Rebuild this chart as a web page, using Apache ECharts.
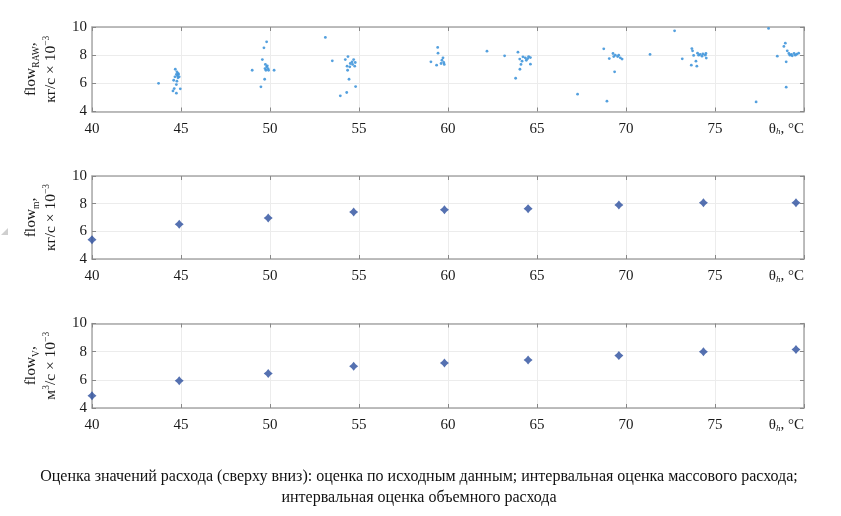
<!DOCTYPE html>
<html>
<head>
<meta charset="utf-8">
<script src="https://cdn.jsdelivr.net/npm/echarts@6/dist/echarts.min.js"></script>
<style>
html,body{margin:0;padding:0;background:#fff;}
#c{width:841px;height:516px;}
</style>
</head>
<body>
<div id="c"></div>
<script>
// ---- data ----
var xTicks = [40, 45, 50, 55, 60, 65, 70, 75, 80];
var yTicks = [4, 6, 8, 10];

// top panel: raw flow estimates (kg/s x 1e-3)
var rawX = [
  43.74, 44.68, 44.77, 44.74, 44.80, 44.86, 44.90, 44.83, 44.66, 44.84, 44.59, 44.77, 44.74, 44.62, 44.55, 44.74, 44.96,
  49.81, 49.66, 49.57, 49.74, 49.81, 49.89, 49.77, 49.92, 49.85, 49.72, 49.00, 50.23, 49.70, 49.49,
  53.11, 53.50, 54.23, 54.38, 54.70, 54.51, 54.64, 54.76, 54.48, 54.61, 54.79, 54.36, 54.33, 54.44, 54.81, 54.31, 53.95,
  59.42, 59.44, 59.04, 59.36, 59.66, 59.76, 59.72, 59.79, 59.61,
  62.19, 63.18, 63.93, 64.03, 64.21, 64.34, 64.48, 64.63, 64.40, 64.16, 64.63, 64.53, 64.10, 64.04, 63.80,
  68.75, 69.06, 69.27, 69.40, 69.53, 69.68, 69.78, 69.31, 69.59, 69.36, 67.28, 68.93,
  71.35, 72.73, 73.16, 73.70, 73.74, 73.80, 74.02, 74.17, 74.32, 74.45, 74.49, 74.27, 74.08, 74.51, 73.93, 73.67, 73.98,
  78.01, 78.95, 78.87, 78.50, 79.06, 79.15, 79.29, 79.44, 79.59, 79.70, 79.34, 79.21, 79.51, 79.00, 79.00, 77.31
];
var rawY = [
  6.00, 7.00, 6.82, 6.63, 6.53, 6.63, 6.46, 6.39, 6.46, 6.70, 6.22, 6.15, 5.91, 5.63, 5.46, 5.30, 5.61,
  8.95, 8.52, 7.69, 7.34, 7.17, 7.05, 6.93, 6.93, 7.24, 7.05, 6.93, 6.93, 6.29, 5.75,
  9.26, 7.60, 7.69, 7.90, 7.69, 7.41, 7.34, 7.22, 7.17, 7.53, 7.48, 6.93, 7.22, 6.29, 5.77, 5.35, 5.11,
  8.55, 8.14, 7.53, 7.29, 7.64, 7.48, 7.81, 7.34, 7.41,
  8.28, 7.95, 8.21, 7.72, 7.88, 7.81, 7.76, 7.83, 7.64, 7.57, 7.36, 7.90, 7.34, 7.00, 6.36,
  8.45, 7.76, 8.12, 8.00, 7.90, 7.81, 7.72, 7.90, 8.00, 6.82, 5.23, 4.73,
  8.05, 9.73, 7.74, 8.47, 8.31, 7.98, 8.14, 8.05, 8.09, 8.00, 8.12, 7.93, 8.00, 7.79, 7.57, 7.29, 7.22,
  9.90, 8.85, 8.62, 7.93, 8.31, 8.12, 8.05, 8.12, 8.07, 8.14, 7.95, 8.00, 8.00, 7.53, 5.73, 4.68
];

// middle panel: interval estimate of mass flow
var massX = [40.0, 44.9, 49.9, 54.7, 59.8, 64.5, 69.6, 74.35, 79.55];
var massY = [5.40, 6.51, 6.96, 7.40, 7.56, 7.64, 7.90, 8.07, 8.07];

// bottom panel: interval estimate of volume flow
var volX = [40.0, 44.9, 49.9, 54.7, 59.8, 64.5, 69.6, 74.35, 79.55];
var volY = [4.87, 5.93, 6.45, 6.96, 7.20, 7.41, 7.72, 8.00, 8.16];

var caption1 = 'Оценка значений расхода (сверху вниз): оценка по исходным данным; интервальная оценка массового расхода;';
var caption2 = 'интервальная оценка объемного расхода';

// ---- helpers ----
function zip(a, b) { return a.map(function (v, i) { return [v, b[i]]; }); }

var SERIF = 'Liberation Serif';
var TXT = '#1a1a1a';
var FRAME = '#a8a8a8';
var GRIDC = '#ececec';

var nameRich = {
  n: { fontFamily: SERIF, fontSize: 15.5, color: TXT, lineHeight: 20 },
  s: { fontFamily: SERIF, fontSize: 9.5, color: TXT, verticalAlign: 'bottom', lineHeight: 14 },
  p: { fontFamily: SERIF, fontSize: 9.5, color: TXT, verticalAlign: 'top', lineHeight: 14 }
};

var yNames = [
  '{n|flow}{s|RAW}{n|,}\n{n|кг/с × 10}{p|−3}',
  '{n|flow}{s|m}{n|,}\n{n|кг/с × 10}{p|−3}',
  '{n|flow}{s|V}{n|,}\n{n|м}{p|3}{n|/с × 10}{p|−3}'
];

var grids = [
  { left: 92, top: 27, width: 712, height: 84.5 },
  { left: 92, top: 176, width: 712, height: 83 },
  { left: 92, top: 323.5, width: 712, height: 84.5 }
];

var xAxes = [], yAxes = [];
grids.forEach(function (g, i) {
  xAxes.push({
    type: 'value', gridIndex: i, min: 40, max: 80, interval: 5, position: 'bottom',
    axisLine: { show: true, lineStyle: { color: FRAME, width: 1.5 } },
    axisTick: { show: true, inside: true, length: 4, lineStyle: { color: '#888' } },
    splitLine: { show: true, lineStyle: { color: GRIDC, width: 1 } },
    axisLabel: {
      margin: 10, fontFamily: SERIF, fontSize: 15, color: TXT,
      alignMaxLabel: 'right',
      formatter: function (v) { return v === 80 ? '{a|θ}{s|h}{a|, °C}' : String(v); },
      rich: {
        a: { fontFamily: SERIF, fontSize: 15, color: TXT },
        s: { fontFamily: SERIF, fontSize: 9, fontStyle: 'italic', color: TXT, verticalAlign: 'bottom', lineHeight: 12 }
      }
    }
  });
  xAxes.push({
    type: 'value', gridIndex: i, min: 40, max: 80, interval: 5, position: 'top',
    axisLine: { show: true, lineStyle: { color: FRAME, width: 1.5 } },
    axisTick: { show: true, inside: true, length: 4, lineStyle: { color: '#888' } },
    splitLine: { show: false }, axisLabel: { show: false }
  });
  yAxes.push({
    type: 'value', gridIndex: i, min: 4, max: 10, interval: 2, position: 'left',
    axisLine: { show: true, lineStyle: { color: FRAME, width: 1.5 } },
    axisTick: { show: true, inside: true, length: 4, lineStyle: { color: '#888' } },
    splitLine: { show: true, lineStyle: { color: GRIDC, width: 1 } },
    axisLabel: { margin: 5, fontFamily: SERIF, fontSize: 15, color: TXT },
    name: yNames[i], nameLocation: 'middle', nameRotate: 90, nameGap: 31,
    nameTextStyle: { rich: nameRich, align: 'center' }
  });
  yAxes.push({
    type: 'value', gridIndex: i, min: 4, max: 10, interval: 2, position: 'right',
    axisLine: { show: true, lineStyle: { color: FRAME, width: 1.5 } },
    axisTick: { show: true, inside: true, length: 4, lineStyle: { color: '#888' } },
    splitLine: { show: false }, axisLabel: { show: false }
  });
});

var star = 'path://M0,-10 L4.5,-4.5 L10,0 L4.5,4.5 L0,10 L-4.5,4.5 L-10,0 L-4.5,-4.5 Z';

var option = {
  animation: false,
  backgroundColor: '#fff',
  grid: grids,
  xAxis: xAxes,
  yAxis: yAxes,
  series: [
    { type: 'scatter', xAxisIndex: 0, yAxisIndex: 0, data: zip(rawX, rawY),
      symbol: 'circle', symbolSize: 2.8, itemStyle: { color: '#4196da', opacity: 0.9 } },
    { type: 'scatter', xAxisIndex: 2, yAxisIndex: 2, data: zip(massX, massY),
      symbol: star, symbolSize: 9, itemStyle: { color: '#2b4d9e' } },
    { type: 'scatter', xAxisIndex: 4, yAxisIndex: 4, data: zip(volX, volY),
      symbol: star, symbolSize: 9, itemStyle: { color: '#2b4d9e' } }
  ],
  graphic: [
    { type: 'polygon', shape: { points: [[1, 235], [8, 228], [8, 235]] }, style: { fill: '#cfcfcf' } },
    { type: 'text', x: 419, y: 477, style: { text: caption1, font: '16px "Liberation Serif"', fill: '#111', align: 'center', verticalAlign: 'middle' } },
    { type: 'text', x: 419, y: 498, style: { text: caption2, font: '16px "Liberation Serif"', fill: '#111', align: 'center', verticalAlign: 'middle' } }
  ]
};

var chart = echarts.init(document.getElementById('c'), null, { renderer: 'canvas' });
chart.setOption(option);
</script>
</body>
</html>
